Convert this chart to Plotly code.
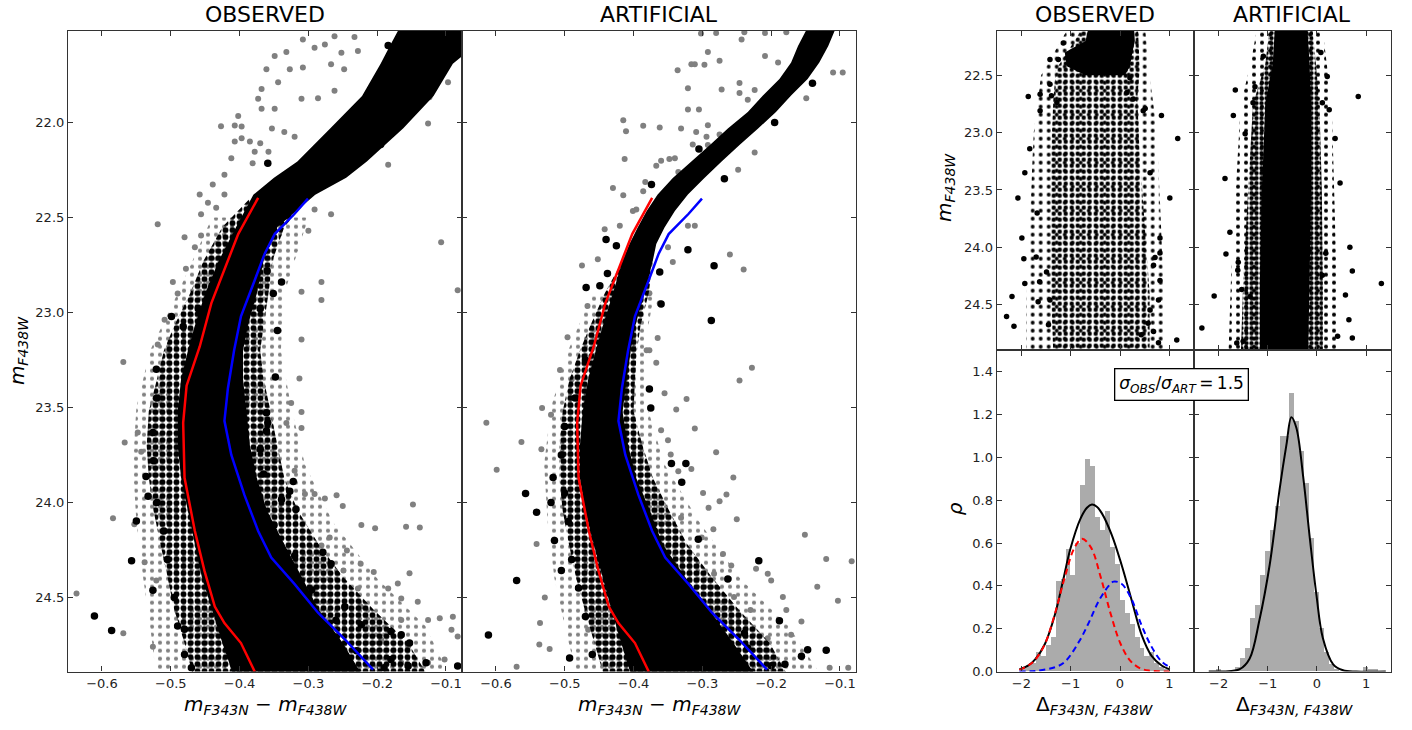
import plotly.graph_objects as go

# ---------------- fiducial lines of the two sequences (same in both CMDs) ----------------
red_mag = [22.396, 22.587, 22.95, 23.18, 23.385, 23.58, 23.87, 24.15, 24.36, 24.548, 24.635, 24.74, 24.89]
red_col = [-0.373, -0.402, -0.441, -0.458, -0.477, -0.482, -0.480, -0.465, -0.451, -0.436, -0.422, -0.398, -0.378]
blue_mag = [22.40, 22.48, 22.587, 22.69, 22.83, 23.02, 23.20, 23.40, 23.57, 23.75, 23.96, 24.15, 24.29, 24.43, 24.58, 24.72, 24.88]
blue_col = [-0.3006, -0.320, -0.349, -0.3635, -0.378, -0.398, -0.408, -0.417, -0.422, -0.412, -0.393, -0.373, -0.354, -0.320, -0.286, -0.247, -0.206]

# ---------------- observed CMD ----------------
obs_core_mag = [21.45, 21.60, 21.69, 21.86, 22.03, 22.205, 22.29, 22.38, 22.55, 22.725, 22.90, 23.07, 23.20,
                23.35, 23.52, 23.70, 23.87, 24.045, 24.22, 24.39, 24.565, 24.74, 24.95]
obs_core_left = [-0.16, -0.182, -0.195, -0.222, -0.268, -0.316, -0.35, -0.38, -0.405, -0.43, -0.45, -0.465, -0.475,
                 -0.485, -0.49, -0.49, -0.485, -0.475, -0.465, -0.455, -0.44, -0.425, -0.405]
obs_core_right = [-0.05, -0.06, -0.09, -0.118, -0.162, -0.215, -0.245, -0.29, -0.345, -0.365, -0.375, -0.388, -0.395,
                  -0.395, -0.39, -0.385, -0.375, -0.36, -0.335, -0.31, -0.285, -0.25, -0.215]
obs_halo_mag = [22.40, 22.55, 22.725, 22.90, 23.07, 23.20, 23.35, 23.52, 23.70, 23.87, 24.045, 24.22, 24.39, 24.565,
                24.74, 24.95]
obs_halo_left = [-0.385, -0.425, -0.452, -0.472, -0.495, -0.51, -0.52, -0.532, -0.535, -0.532, -0.525, -0.515, -0.505,
                 -0.495, -0.48, -0.465]
obs_halo_right = [-0.30, -0.335, -0.352, -0.358, -0.365, -0.37, -0.365, -0.355, -0.345, -0.335, -0.315, -0.285, -0.25,
                  -0.205, -0.155, -0.12]
obs_outer_mag = [22.5, 22.9, 23.2, 23.5, 23.8, 24.1, 24.4, 24.65, 24.95]
obs_outer_left = [-0.44, -0.49, -0.53, -0.55, -0.555, -0.55, -0.54, -0.53, -0.52]
obs_outer_right = [-0.30, -0.335, -0.34, -0.325, -0.305, -0.265, -0.2, -0.13, -0.09]

obs_gray_col = [-0.519, -0.427, -0.407, -0.397, -0.402, -0.368, -0.373, -0.361, -0.349, -0.332, -0.308, -0.291, -0.276,
                -0.262, -0.252, -0.233, -0.228, -0.267, -0.248, -0.327, -0.308, -0.344, -0.310, -0.286, -0.262, -0.349,
                -0.368, -0.397, -0.407, -0.385, -0.370, -0.353, -0.335, -0.320, -0.358, -0.378, -0.412, -0.381, -0.422,
                -0.439, -0.422, -0.458, -0.446, -0.456, -0.434, -0.480, -0.465, -0.456, -0.478, -0.497, -0.490, -0.509,
                -0.519, -0.504, -0.291, -0.267, -0.300, -0.281, -0.281, -0.310, -0.310, -0.184, -0.107, -0.083, -0.126,
                -0.124, -0.097, -0.569, -0.567, -0.548, -0.543, -0.584, -0.553, -0.538, -0.521, -0.637, -0.569, -0.526,
                -0.313, -0.325, -0.310, -0.310, -0.332, -0.347, -0.320, -0.305, -0.291, -0.276, -0.259, -0.250, -0.223,
                -0.203, -0.158, -0.138, -0.148, -0.269, -0.281, -0.244, -0.224, -0.205, -0.153, -0.249, -0.228, -0.224,
                -0.184, -0.170, -0.165, -0.141, -0.126, -0.165, -0.109, -0.090, -0.092, -0.083, -0.155, -0.194, -0.102,
                -0.126, -0.165]
obs_gray_mag = [22.535, 22.019, 22.015, 22.02, 21.965, 21.823, 21.875, 21.719, 21.65, 21.628, 21.562, 21.606, 21.589,
                21.545, 21.632, 21.549, 21.623, 21.693, 21.719, 21.719, 21.71, 21.788, 21.875, 21.872, 21.832, 21.927,
                21.927, 22.083, 22.10, 22.10, 22.109, 22.031, 22.049, 22.075, 22.153, 22.153, 22.188, 22.214, 22.274,
                22.326, 22.378, 22.378, 22.422, 22.483, 22.448, 22.604, 22.656, 22.595, 22.769, 22.839, 22.90, 23.038,
                23.168, 23.203, 22.457, 22.483, 22.569, 22.839, 22.934, 22.89, 23.142, 22.222, 22.63, 22.882, 22.005,
                21.866, 21.788, 23.260, 23.684, 23.632, 23.733, 24.083, 24.115, 24.314, 24.410, 24.479, 24.688, 24.760,
                23.347, 23.476, 23.524, 23.608, 23.581, 23.775, 23.833, 23.955, 23.955, 23.979, 23.962, 24.019, 24.118,
                24.135, 24.128, 24.132, 24.010, 24.184, 24.227, 24.253, 24.323, 24.366, 24.372, 24.358, 24.453, 24.549,
                24.453, 24.427, 24.505, 24.523, 24.618, 24.618, 24.609, 24.601, 24.670, 24.705, 24.757, 24.722, 24.826,
                24.844, 24.844]
obs_black_col = [-0.359, -0.195, -0.211, -0.184, -0.339, -0.351, -0.345, -0.499, -0.482, -0.348, -0.521, -0.526, -0.536,
                 -0.533, -0.550, -0.557, -0.526, -0.611, -0.586, -0.480, -0.322, -0.327, -0.339, -0.318, -0.279, -0.267,
                 -0.247, -0.223, -0.180, -0.153, -0.165, -0.129, -0.083, -0.155, -0.180, -0.361, -0.359, -0.361,
                 -0.52, -0.525, -0.52, -0.51, -0.505, -0.495, -0.49, -0.48, -0.47, -0.35, -0.32, -0.295, -0.26, -0.23,
                 -0.19, -0.37, -0.365, -0.44, -0.46, -0.37, -0.36]
obs_black_mag = [22.214, 22.115, 22.135, 21.594, 22.839, 22.90, 23.094, 23.021, 23.073, 23.339, 23.299, 23.632, 23.863,
                 23.967, 24.097, 24.306, 24.462, 24.597, 24.674, 24.667, 23.889, 23.941, 23.984, 24.036, 24.262, 24.323,
                 24.549, 24.644, 24.679, 24.740, 24.696, 24.844, 24.861, 24.861, 24.826, 23.528, 23.580, 23.623,
                 23.45, 23.78, 24.0, 24.15, 24.3, 24.5, 24.65, 24.8, 24.87, 24.12, 24.28, 24.46, 24.62, 24.78,
                 24.87, 23.72, 23.85, 22.86, 22.98, 22.98, 22.78]

# ---------------- artificial-star CMD ----------------
art_core_mag = [21.45, 21.597, 21.684, 21.77, 21.858, 21.944, 22.031, 22.118, 22.205, 22.292, 22.378, 22.465, 22.552,
                22.639, 22.726, 22.899, 23.073, 23.20, 23.351, 23.524, 23.698, 23.872, 24.045, 24.219, 24.392, 24.566,
                24.74, 24.95]
art_core_left = [-0.14, -0.161, -0.171, -0.188, -0.212, -0.234, -0.263, -0.289, -0.316, -0.343, -0.365, -0.381, -0.394,
                 -0.406, -0.416, -0.43, -0.445, -0.455, -0.466, -0.474, -0.478, -0.478, -0.47, -0.458, -0.445, -0.432,
                 -0.418, -0.40]
art_core_right = [-0.10, -0.117, -0.130, -0.147, -0.171, -0.193, -0.219, -0.246, -0.272, -0.297, -0.321, -0.340, -0.355,
                  -0.367, -0.372, -0.384, -0.398, -0.404, -0.41, -0.416, -0.408, -0.396, -0.376, -0.358, -0.325, -0.29,
                  -0.255, -0.215]
art_halo_mag = [22.726, 22.9, 23.07, 23.2, 23.35, 23.52, 23.70, 23.87, 24.045, 24.22, 24.39, 24.565, 24.74, 24.95]
art_halo_left = [-0.416, -0.442, -0.463, -0.478, -0.493, -0.503, -0.508, -0.508, -0.503, -0.494, -0.484, -0.471,
                 -0.457, -0.44]
art_halo_right = [-0.372, -0.378, -0.39, -0.395, -0.398, -0.40, -0.387, -0.372, -0.348, -0.322, -0.287, -0.247,
                  -0.202, -0.17]
art_outer_mag = [22.9, 23.2, 23.5, 23.8, 24.1, 24.4, 24.65, 24.95]
art_outer_left = [-0.46, -0.495, -0.52, -0.53, -0.525, -0.515, -0.5, -0.48]
art_outer_right = [-0.37, -0.385, -0.38, -0.355, -0.305, -0.245, -0.175, -0.12]

art_gray_col = [-0.302, -0.280, -0.243, -0.239, -0.209, -0.178, -0.292, -0.336, -0.316, -0.311, -0.297, -0.275, -0.209,
                -0.190, -0.321, -0.272, -0.246, -0.246, -0.224, -0.234, -0.321, -0.305, -0.110, -0.096, -0.149, -0.415,
                -0.411, -0.386, -0.362, -0.331, -0.309, -0.292, -0.275, -0.294, -0.314, -0.292, -0.224, -0.413, -0.367,
                -0.360, -0.348, -0.340, -0.335, -0.248, -0.430, -0.415, -0.386, -0.383, -0.401, -0.396, -0.442, -0.420,
                -0.452, -0.475, -0.467, -0.496, -0.260, -0.240, -0.377, -0.362, -0.365, -0.377, -0.343, -0.350, -0.311,
                -0.321, -0.614, -0.599, -0.563, -0.534, -0.533, -0.520, -0.507, -0.490, -0.541, -0.529, -0.536, -0.537,
                -0.522, -0.570, -0.466, -0.381, -0.367, -0.355, -0.338, -0.360, -0.350, -0.346, -0.335, -0.316, -0.311,
                -0.323, -0.280, -0.255, -0.246, -0.228, -0.299, -0.291, -0.275, -0.265, -0.250, -0.284, -0.331, -0.301,
                -0.270, -0.258, -0.283, -0.222, -0.205, -0.200, -0.151, -0.120, -0.083, -0.133, -0.183, -0.103, -0.178,
                -0.156, -0.205, -0.171, -0.115, -0.088, -0.254, -0.230]
art_gray_mag = [21.531, 21.528, 21.563, 21.524, 21.528, 21.524, 21.628, 21.724, 21.693, 21.693, 21.696, 21.675, 21.649,
                21.684, 21.819, 21.826, 21.792, 21.844, 21.828, 21.880, 21.931, 21.931, 21.736, 21.736, 21.872, 21.988,
                22.045, 22.017, 22.026, 22.031, 22.049, 22.014, 22.063, 22.075, 22.115, 22.118, 22.158, 22.191, 22.227,
                22.201, 22.191, 22.188, 22.260, 22.248, 22.344, 22.382, 22.361, 22.313, 22.465, 22.457, 22.561, 22.543,
                22.720, 22.752, 22.965, 23.130, 22.694, 22.773, 22.899, 22.951, 23.134, 23.198, 22.734, 22.656, 22.543,
                22.543, 23.580, 23.828, 23.681, 23.720, 23.502, 23.538, 23.302, 23.351, 24.219, 24.50, 24.635, 24.747,
                24.771, 24.865, 24.670, 23.198, 23.264, 23.425, 23.510, 23.620, 23.672, 23.747, 23.835, 23.823, 23.611,
                23.455, 23.736, 23.868, 23.358, 23.290, 23.950, 24.028, 23.993, 23.958, 24.088, 24.141, 24.080, 24.184,
                24.271, 24.332, 24.375, 24.349, 24.375, 24.410, 24.170, 24.297, 24.309, 24.444, 24.497, 24.517, 24.566,
                24.627, 24.714, 24.696, 24.870, 24.870, 24.497, 24.566]
art_black_col = [-0.440, -0.469, -0.449, -0.438, -0.425, -0.321, -0.283, -0.287, -0.305, -0.268, -0.140, -0.195, -0.374,
                 -0.362, -0.360, -0.557, -0.541, -0.570, -0.611, -0.493, -0.517, -0.505, -0.324, -0.330, -0.345, -0.377,
                 -0.375, -0.306, -0.218, -0.263, -0.188, -0.147, -0.120, -0.156, -0.180, -0.239, -0.234,
                 -0.50, -0.505, -0.50, -0.495, -0.49, -0.48, -0.47, -0.46, -0.52, -0.515, -0.36, -0.33, -0.29, -0.26,
                 -0.20, -0.37, -0.395, -0.485, -0.47]
art_black_mag = [22.616, 22.868, 22.859, 22.795, 22.648, 22.670, 22.753, 23.042, 22.139, 22.295, 21.793, 22.000, 22.326,
                 22.786, 22.955, 23.953, 24.051, 24.410, 24.698, 24.818, 23.868, 24.358, 23.795, 23.894, 23.795, 23.403,
                 23.503, 24.193, 24.307, 24.403, 24.622, 24.775, 24.778, 24.809, 24.852, 24.688, 24.766,
                 23.6, 23.75, 23.95, 24.1, 24.3, 24.45, 24.6, 24.8, 24.0, 24.2, 24.3, 24.45, 24.65, 24.8,
                 24.86, 24.15, 23.95, 23.45, 23.25]

# ---------------- verticalized sequences (Delta vs magnitude) ----------------
vobs_core_mag = [22.05, 22.2, 22.3, 22.42, 22.5]
vobs_core_left = [-0.62, -0.70, -1.12, -1.08, -0.7]
vobs_core_right = [0.28, 0.30, 0.25, 0.20, 0.10]
vobs_halo_mag = [22.05, 22.45, 22.7, 23.2, 23.8, 24.4, 24.95]
vobs_halo_left = [-0.7, -1.3, -1.35, -1.4, -1.4, -1.4, -1.35]
vobs_halo_right = [0.36, 0.4, 0.35, 0.4, 0.5, 0.6, 0.6]
vobs_outer_mag = [22.05, 22.5, 23.0, 23.5, 24.0, 24.5, 24.95]
vobs_outer_left = [-1.0, -1.6, -1.75, -1.8, -1.85, -1.9, -1.9]
vobs_outer_right = [0.5, 0.6, 0.75, 0.8, 0.85, 0.9, 0.9]
vobs_dot_d = [-1.15, -1.42, -1.25, -1.42, -1.86, -1.62, -1.39, -1.28, 0.47, 0.84, 0.27, 0.14, 0.20, -1.62,
              -2.30, -2.15, -1.93, -1.70, -1.95, -1.66, -1.63, -1.45, -1.49, -1.42,
              1.15, 0.81, 0.78, 0.61, 0.68, 0.68, 0.78, 0.43, 0.57, 0.81,
              -2.07, -1.99, -1.83, -1.93, -1.68, -2.19, 0.81, 0.61, 1.01, 1.17, 0.51, 0.71]
vobs_dot_mag = [22.218, 22.362, 22.362, 22.578, 22.684, 22.664, 22.678, 22.736, 22.808, 22.851, 22.707, 22.650, 22.520,
                22.808, 24.604, 24.69, 24.317, 24.086, 24.10, 24.475, 24.30, 24.676, 24.216, 24.46,
                24.81, 24.29, 24.46, 24.547, 24.158, 24.734, 24.834, 24.763, 24.662, 24.05,
                23.57, 23.92, 23.14, 23.35, 23.70, 24.43, 23.92, 23.35, 23.57, 23.05, 22.79, 24.09]

vart_core_mag = [22.05, 22.4, 22.75, 23.5, 24.3, 24.95]
vart_core_left = [-0.85, -0.9, -1.05, -1.12, -1.16, -1.16]
vart_core_right = [-0.2, -0.15, -0.12, -0.12, -0.15, -0.18]
vart_halo_mag = [22.05, 22.4, 22.75, 23.5, 24.3, 24.95]
vart_halo_left = [-0.95, -1.05, -1.3, -1.4, -1.5, -1.55]
vart_halo_right = [-0.1, -0.02, 0.05, 0.1, 0.12, 0.12]
vart_outer_mag = [22.05, 22.4, 22.75, 23.5, 24.3, 24.95]
vart_outer_left = [-1.2, -1.35, -1.55, -1.65, -1.75, -1.8]
vart_outer_right = [0.1, 0.2, 0.3, 0.35, 0.4, 0.4]
vart_dot_d = [-1.66, -1.09, 0.08, 0.21, 0.84, 0.25, 0.11, -1.70, -1.26, -1.30,
              -2.34, -2.09, -1.85, -1.60, -1.61, -1.53, -1.36, -1.63, -1.50, 0.72, 0.58, 1.31, 0.65, 0.42, 0.72,
              0.18, 0.11, -1.77, -1.46, 0.47, 0.67, -1.87, 0.37]
vart_dot_mag = [22.627, 22.333, 22.30, 22.51, 22.684, 22.80, 22.74, 22.85, 22.60, 22.74,
                24.705, 24.426, 24.058, 24.13, 24.20, 24.368, 24.43, 24.835, 24.82, 24.207, 24.417, 24.317, 24.633,
                24.777, 24.791, 24.052, 24.245, 23.87, 23.01, 23.44, 24.0, 23.40, 23.05]

# ---------------- histograms of Delta and their fits ----------------
hist_obs_center = [-1.96, -1.86, -1.76, -1.66, -1.56, -1.46, -1.36, -1.26, -1.16, -1.06, -0.96, -0.86, -0.76, -0.66,
                   -0.56, -0.46, -0.36, -0.26, -0.16, -0.06, 0.04, 0.14, 0.24, 0.34, 0.44, 0.54, 0.64, 0.74, 0.84, 0.94]
hist_obs_rho = [0.02, 0.03, 0.04, 0.09, 0.07, 0.12, 0.16, 0.42, 0.43, 0.57, 0.45, 0.60, 0.87, 0.99,
                0.96, 0.72, 0.66, 0.75, 0.58, 0.50, 0.33, 0.27, 0.22, 0.16, 0.11, 0.07, 0.09, 0.04, 0.02, 0.01]
hist_art_center = [-2.01, -1.61, -1.51, -1.41, -1.31, -1.21, -1.11, -1.01, -0.91, -0.81, -0.71, -0.61, -0.51, -0.41,
                   -0.31, -0.21, -0.11, -0.01, 0.09, 0.19, 0.29, 0.39, 0.99, 1.09, 1.19]
hist_art_rho = [0.01, 0.02, 0.06, 0.11, 0.25, 0.31, 0.45, 0.56, 0.66, 0.77, 1.10, 1.10, 1.30, 1.17,
                1.03, 0.88, 0.62, 0.37, 0.20, 0.09, 0.035, 0.01, 0.02, 0.01, 0.01]

fit_obs_d = [-2.04, -1.85, -1.72, -1.52, -1.32, -1.15, -1.01, -0.81, -0.67, -0.57, -0.47, -0.37, -0.17, 0.03,
             0.24, 0.44, 0.64, 0.85, 1.01]
fit_obs_rho = [0.01, 0.03, 0.057, 0.13, 0.265, 0.43, 0.57, 0.71, 0.765, 0.78, 0.77, 0.74, 0.64, 0.50,
               0.33, 0.17, 0.073, 0.027, 0.01]
comp_red_d = [-2.04, -1.85, -1.72, -1.52, -1.32, -1.12, -0.92, -0.77, -0.59, -0.39, -0.19, 0.01, 0.21, 0.41, 0.61,
              0.81, 1.01]
comp_red_rho = [0.008, 0.03, 0.055, 0.13, 0.27, 0.44, 0.58, 0.62, 0.58, 0.44, 0.27, 0.13, 0.05, 0.015, 0.004,
                0.001, 0.0]
comp_blue_d = [-2.04, -1.72, -1.32, -1.12, -0.83, -0.63, -0.43, -0.23, -0.13, 0.03, 0.23, 0.43, 0.63, 0.83, 1.01]
comp_blue_rho = [0.0, 0.003, 0.02, 0.045, 0.14, 0.23, 0.33, 0.40, 0.42, 0.41, 0.34, 0.22, 0.12, 0.05, 0.02]
fit_art_d = [-2.2, -1.8, -1.57, -1.37, -1.17, -0.96, -0.76, -0.62, -0.52, -0.42, -0.28, -0.15, -0.01, 0.12, 0.33,
             0.53, 0.8, 1.4]
fit_art_rho = [0.0, 0.002, 0.011, 0.06, 0.24, 0.50, 0.85, 1.06, 1.188, 1.14, 0.91, 0.634, 0.357, 0.157, 0.034,
               0.006, 0.0, 0.0]

FONT = "DejaVu Sans"
FRAME = "#333333"


def band(mag, left, right):
    """Closed outline running down the left edge and back up the right edge."""
    xs = list(left) + list(right)[::-1] + [left[0]]
    ys = list(mag) + list(mag)[::-1] + [mag[0]]
    return xs, ys


def solid(mag, left, right, xa, ya):
    xs, ys = band(mag, left, right)
    return go.Scatter(x=xs, y=ys, xaxis=xa, yaxis=ya, mode="none", fill="toself",
                      fillcolor="black", hoverinfo="skip", showlegend=False)


def speckled(mag, left, right, xa, ya, solidity, size=6, color="black"):
    xs, ys = band(mag, left, right)
    return go.Scatter(x=xs, y=ys, xaxis=xa, yaxis=ya, mode="none", fill="toself",
                      fillcolor="rgba(255,255,255,0)",
                      fillpattern=dict(shape=".", fgcolor=color, fgopacity=1, bgcolor="rgba(255,255,255,0)",
                                       fillmode="replace", size=size, solidity=solidity),
                      hoverinfo="skip", showlegend=False)


def dots(x, y, xa, ya, color, size):
    return go.Scatter(x=x, y=y, xaxis=xa, yaxis=ya, mode="markers",
                      marker=dict(color=color, size=size, line=dict(width=0)),
                      hoverinfo="skip", showlegend=False)


def line(x, y, xa, ya, color, width=2.5, dash="solid", shape="linear"):
    return go.Scatter(x=x, y=y, xaxis=xa, yaxis=ya, mode="lines",
                      line=dict(color=color, width=width, dash=dash, shape=shape, smoothing=1.0),
                      hoverinfo="skip", showlegend=False)


fig = go.Figure()

# observed CMD
fig.add_trace(speckled(obs_outer_mag, obs_outer_left, obs_outer_right, "x", "y", 0.22, 8, "#808080"))
fig.add_trace(dots(obs_gray_col, obs_gray_mag, "x", "y", "#808080", 6))
fig.add_trace(speckled(obs_halo_mag, obs_halo_left, obs_halo_right, "x", "y", 0.55, 7))
fig.add_trace(solid(obs_core_mag, obs_core_left, obs_core_right, "x", "y"))
fig.add_trace(dots(obs_black_col, obs_black_mag, "x", "y", "black", 7.5))
fig.add_trace(line(red_col, red_mag, "x", "y", "#ff0000"))
fig.add_trace(line(blue_col, blue_mag, "x", "y", "#0000ff"))

# artificial CMD
fig.add_trace(speckled(art_outer_mag, art_outer_left, art_outer_right, "x2", "y2", 0.22, 8, "#808080"))
fig.add_trace(dots(art_gray_col, art_gray_mag, "x2", "y2", "#808080", 6))
fig.add_trace(speckled(art_halo_mag, art_halo_left, art_halo_right, "x2", "y2", 0.6, 7))
fig.add_trace(solid(art_core_mag, art_core_left, art_core_right, "x2", "y2"))
fig.add_trace(dots(art_black_col, art_black_mag, "x2", "y2", "black", 7.5))
fig.add_trace(line(red_col, red_mag, "x2", "y2", "#ff0000"))
fig.add_trace(line(blue_col, blue_mag, "x2", "y2", "#0000ff"))

# verticalized sequences
fig.add_trace(speckled(vobs_outer_mag, vobs_outer_left, vobs_outer_right, "x3", "y3", 0.18, 8))
fig.add_trace(speckled(vobs_halo_mag, vobs_halo_left, vobs_halo_right, "x3", "y3", 0.42, 6))
fig.add_trace(solid(vobs_core_mag, vobs_core_left, vobs_core_right, "x3", "y3"))
fig.add_trace(dots(vobs_dot_d, vobs_dot_mag, "x3", "y3", "black", 5.5))
fig.add_trace(speckled(vart_outer_mag, vart_outer_left, vart_outer_right, "x4", "y4", 0.2, 8))
fig.add_trace(speckled(vart_halo_mag, vart_halo_left, vart_halo_right, "x4", "y4", 0.6, 5))
fig.add_trace(solid(vart_core_mag, vart_core_left, vart_core_right, "x4", "y4"))
fig.add_trace(dots(vart_dot_d, vart_dot_mag, "x4", "y4", "black", 5.5))

# histograms with fitted curves
fig.add_trace(go.Bar(x=hist_obs_center, y=hist_obs_rho, width=0.1, xaxis="x5", yaxis="y5",
                     marker=dict(color="#ababab", line=dict(width=0)), hoverinfo="skip", showlegend=False))
fig.add_trace(line(fit_obs_d, fit_obs_rho, "x5", "y5", "black", 2, shape="spline"))
fig.add_trace(line(comp_red_d, comp_red_rho, "x5", "y5", "#ff0000", 2, dash="6px,4px", shape="spline"))
fig.add_trace(line(comp_blue_d, comp_blue_rho, "x5", "y5", "#0000ff", 2, dash="6px,4px", shape="spline"))
fig.add_trace(go.Bar(x=hist_art_center, y=hist_art_rho, width=0.1, xaxis="x6", yaxis="y6",
                     marker=dict(color="#ababab", line=dict(width=0)), hoverinfo="skip", showlegend=False))
fig.add_trace(line(fit_art_d, fit_art_rho, "x6", "y6", "black", 2, shape="spline"))

W, H = 1412, 730


def px(x):
    return x / W


def py(y):
    return 1 - y / H


tick_font = dict(family=FONT, size=13, color="#222222")


def axis(domain, rng, anchor, dtick=None, tick0=None, labels=True, fmt=None):
    a = dict(domain=domain, range=rng, anchor=anchor, showgrid=False, zeroline=False,
             showline=True, linecolor=FRAME, linewidth=1.2, mirror="ticks",
             ticks="inside", ticklen=5, tickwidth=1, tickcolor=FRAME,
             showticklabels=labels, tickfont=tick_font, fixedrange=True)
    if dtick is not None:
        a.update(tickmode="linear", dtick=dtick, tick0=tick0)
    if fmt:
        a.update(tickformat=fmt)
    return a


cmd_y = [0.06986, 0.95753]
top_y = [0.51466, 0.95753]
bot_y = [0.06986, 0.51466]
cmd_xr = [-0.6494, -0.0767]
cmd_yr = [24.89, 21.516]
v_yr = [24.90, 22.11]
d_xr = [-2.5, 1.5]

fig.update_layout(
    width=W, height=H, margin=dict(l=0, r=0, t=0, b=0),
    paper_bgcolor="white", plot_bgcolor="white", bargap=0,
    xaxis=axis([px(68), px(462)], cmd_xr, "y", 0.1, -0.6, fmt=".1f"),
    yaxis=axis(cmd_y, cmd_yr, "x", 0.5, 22.0, fmt=".1f"),
    xaxis2=axis([px(462), px(856)], cmd_xr, "y2", 0.1, -0.6, fmt=".1f"),
    yaxis2=axis(cmd_y, cmd_yr, "x2", 0.5, 22.0, labels=False),
    xaxis3=axis([px(996.7), px(1194)], d_xr, "y3", 1, 0, labels=False),
    yaxis3=axis(top_y, v_yr, "x3", 0.5, 22.5, fmt=".1f"),
    xaxis4=axis([px(1194), px(1390.7)], d_xr, "y4", 1, 0, labels=False),
    yaxis4=axis(top_y, v_yr, "x4", 0.5, 22.5, labels=False),
    xaxis5=axis([px(996.7), px(1194)], d_xr, "y5", 1, 0),
    yaxis5=axis(bot_y, [0, 1.5], "x5", 0.2, 0, fmt=".1f"),
    xaxis6=axis([px(1194), px(1390.7)], d_xr, "y6", 1, 0),
    yaxis6=axis(bot_y, [0, 1.5], "x6", 0.2, 0, labels=False),
)

title_font = dict(family=FONT, size=22, color="black")
label_font = dict(family=FONT, size=20, color="black")
col_label = "<i>m</i><sub><i>F343N</i></sub> \u2212 <i>m</i><sub><i>F438W</i></sub>"
mag_label = "<i>m</i><sub><i>F438W</i></sub>"
delta_label = "\u0394<sub><i>F343N, F438W</i></sub>"
small = "<span style='font-size:12px'><i>{}</i></span>"
ratio_label = ("<i>\u03c3</i><sub>" + small.format("OBS") + "</sub>/<i>\u03c3</i><sub>" + small.format("ART")
               + "</sub>\u2009=\u20091.5")

ann = []
for xc, txt in [(265, "OBSERVED"), (659, "ARTIFICIAL"), (1095, "OBSERVED"), (1292, "ARTIFICIAL")]:
    ann.append(dict(x=px(xc), y=py(15), xref="paper", yref="paper", text=txt, showarrow=False,
                    font=title_font, xanchor="center", yanchor="middle"))
for xc, txt in [(265, col_label), (659, col_label), (1095, delta_label), (1295, delta_label)]:
    ann.append(dict(x=px(xc), y=py(713), xref="paper", yref="paper", text=txt, showarrow=False,
                    font=label_font, xanchor="center", yanchor="middle"))
ann.append(dict(x=px(18), y=py(355), xref="paper", yref="paper", text=mag_label, showarrow=False,
                font=label_font, textangle=-90, xanchor="center", yanchor="middle"))
ann.append(dict(x=px(945), y=py(190), xref="paper", yref="paper", text=mag_label, showarrow=False,
                font=label_font, textangle=-90, xanchor="center", yanchor="middle"))
ann.append(dict(x=px(955), y=py(515), xref="paper", yref="paper", text="<i>\u03c1</i>", showarrow=False,
                font=label_font, textangle=-90, xanchor="center", yanchor="middle"))
ann.append(dict(x=px(1181), y=py(389), xref="paper", yref="paper", text=ratio_label, showarrow=False,
                font=dict(family=FONT, size=17, color="black"), bgcolor="white",
                bordercolor="black", borderwidth=1.3, borderpad=4, xanchor="center", yanchor="middle"))
fig.update_layout(annotations=ann)

fig.write_html("out.html")
